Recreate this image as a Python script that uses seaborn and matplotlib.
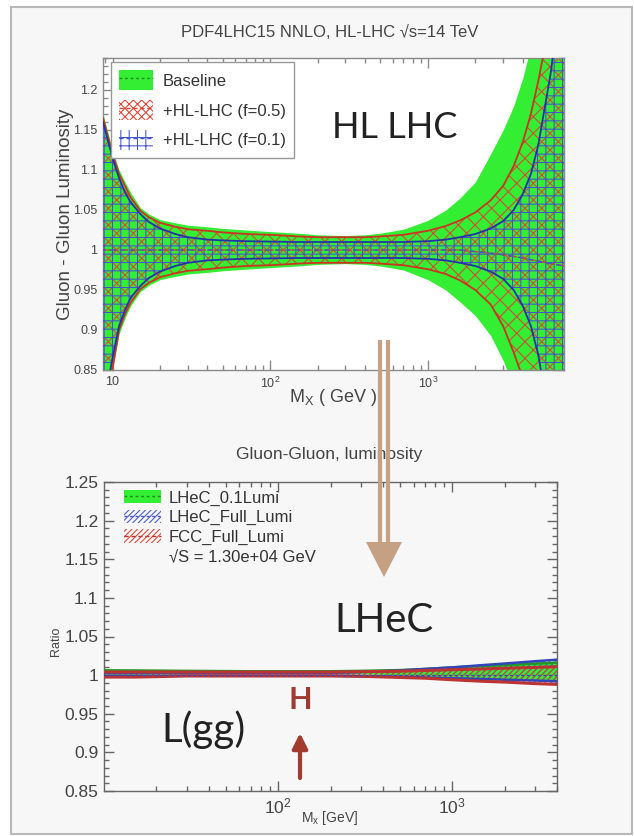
import seaborn as sns
import matplotlib.pyplot as plt
from matplotlib.patches import Patch, Rectangle, Polygon
from matplotlib.lines import Line2D
from matplotlib.ticker import FixedLocator, FixedFormatter, MultipleLocator, LogLocator, NullFormatter

sns.set_style("ticks")
plt.rcParams['font.family'] = ['Liberation Sans', 'DejaVu Sans']
plt.rcParams['mathtext.default'] = 'regular'
plt.rcParams['hatch.linewidth'] = 0.75

# ---- top panel: PDF4LHC15 NNLO gg luminosity ratio
mx_top = [8.7, 10, 11, 12, 13, 15, 17, 20, 25, 30, 40, 50, 70, 100, 150, 200, 300, 400,
          500, 700, 1000, 1300, 1600, 2000, 2500, 3000, 3500, 4000, 4500, 5000, 6000, 7300]
base_hi = [1.17, 1.125, 1.10, 1.085, 1.072, 1.053, 1.045, 1.038, 1.034, 1.031, 1.029, 1.027,
           1.025, 1.023, 1.021, 1.019, 1.018, 1.019, 1.021, 1.026, 1.037, 1.05, 1.065, 1.085,
           1.12, 1.15, 1.18, 1.215, 1.255, 1.30, 1.40, 1.50]
base_lo = [0.80, 0.85, 0.895, 0.915, 0.93, 0.948, 0.956, 0.963, 0.967, 0.970, 0.972, 0.974,
           0.976, 0.978, 0.980, 0.982, 0.983, 0.982, 0.980, 0.975, 0.963, 0.95, 0.935, 0.918,
           0.893, 0.862, 0.83, 0.80, 0.76, 0.72, 0.62, 0.50]
hl5_hi = [1.165, 1.12, 1.095, 1.08, 1.066, 1.049, 1.041, 1.034, 1.029, 1.026, 1.024, 1.022,
          1.020, 1.019, 1.017, 1.016, 1.016, 1.016, 1.017, 1.019, 1.024, 1.030, 1.037, 1.047,
          1.062, 1.08, 1.105, 1.135, 1.17, 1.21, 1.29, 1.40]
hl5_lo = [0.80, 0.852, 0.90, 0.92, 0.934, 0.951, 0.959, 0.966, 0.971, 0.974, 0.976, 0.978,
          0.980, 0.981, 0.983, 0.984, 0.984, 0.984, 0.983, 0.981, 0.976, 0.970, 0.962, 0.950,
          0.932, 0.905, 0.872, 0.84, 0.80, 0.77, 0.68, 0.55]
hl1_hi = [1.16, 1.115, 1.09, 1.072, 1.06, 1.045, 1.035, 1.027, 1.02, 1.016, 1.013, 1.012,
          1.011, 1.0105, 1.01, 1.01, 1.01, 1.01, 1.01, 1.01, 1.011, 1.013, 1.016, 1.02,
          1.027, 1.036, 1.05, 1.07, 1.095, 1.13, 1.22, 1.35]
hl1_lo = [0.80, 0.865, 0.905, 0.925, 0.94, 0.955, 0.965, 0.973, 0.98, 0.984, 0.987, 0.988,
          0.989, 0.9895, 0.99, 0.99, 0.99, 0.99, 0.99, 0.99, 0.989, 0.987, 0.984, 0.98,
          0.973, 0.964, 0.95, 0.93, 0.905, 0.87, 0.78, 0.65]
center_top = [1.0] * 23 + [0.998, 0.996, 0.994, 0.992, 0.99, 0.988, 0.986, 0.983, 0.98]

yticks_top = [0.85, 0.9, 0.95, 1.0, 1.05, 1.1, 1.15, 1.2]
ylabels_top = ['0.85', '0.9', '0.95', '1', '1.05', '1.1', '1.15', '1.2']
xticks_top = [10, 100, 1000]
xlabels_top = ['10', '$10^{2}$', '$10^{3}$']

# ---- bottom panel: LHeC / FCC gg luminosity ratio
mx_bot = [10, 15, 20, 30, 50, 70, 100, 150, 200, 300, 500, 700, 1000, 1500, 2000, 3000, 4000]
lhec01_hi = [1.0062, 1.006, 1.0058, 1.0055, 1.0052, 1.005, 1.005, 1.005, 1.005, 1.0055,
             1.0065, 1.008, 1.010, 1.012, 1.013, 1.015, 1.016]
lhec01_lo = [1.001, 1.001, 1.0012, 1.0015, 1.0018, 1.002, 1.002, 1.002, 1.002, 1.0015,
             1.0005, 0.999, 0.997, 0.995, 0.994, 0.993, 0.992]
lhec_hi = [1.003] * 9 + [1.004, 1.006, 1.008, 1.010, 1.013, 1.015, 1.018, 1.020]
lhec_lo = [0.999] * 9 + [0.9985, 0.998, 0.997, 0.996, 0.995, 0.994, 0.993, 0.992]
fcc_hi = [1.004] * 9 + [1.0045, 1.005, 1.006, 1.007, 1.008, 1.009, 1.010, 1.011]
fcc_lo = [0.9975, 0.9975, 0.998, 0.999, 0.999, 0.999, 0.999, 0.999, 0.999, 0.9985,
          0.997, 0.996, 0.994, 0.992, 0.991, 0.989, 0.988]
center_bot = [1.0] * 17

yticks_bot = [0.85, 0.9, 0.95, 1.0, 1.05, 1.1, 1.15, 1.2, 1.25]
ylabels_bot = ['0.85', '0.9', '0.95', '1', '1.05', '1.1', '1.15', '1.2', '1.25']
xticks_bot = [100, 1000]
xlabels_bot = ['$10^{2}$', '$10^{3}$']

GREEN = '#33ee33'
RED = '#dd4433'
BLUE = '#4455cc'

W, H = 634, 836
fig = plt.figure(figsize=(W / 100, H / 100), dpi=100, facecolor='white')
inch = fig.dpi_scale_trans


def P(x, y):
    # picture pixel (from top-left) -> inches from bottom-left
    return (x / 100, (H - y) / 100)


fig.add_artist(Rectangle(P(11, 834), 621 / 100, 827 / 100, transform=inch,
                         facecolor='#f7f7f7', edgecolor='#b8b8b8', lw=1.5, zorder=-1))

ax1 = fig.add_axes([103 / W, 1 - 370 / H, 461 / W, 312 / H])
ax2 = fig.add_axes([104 / W, 1 - 791 / H, 453 / W, 309 / H])
ax1.set_facecolor('white')
ax2.set_facecolor('#f7f7f7')

# top panel bands
ax1.set_xscale('log')
ax1.fill_between(mx_top, base_lo, base_hi, color=GREEN, lw=0, zorder=1)
plt.rcParams['hatch.color'] = RED
ax1.fill_between(mx_top, hl5_lo, hl5_hi, facecolor='none', edgecolor=RED, hatch='xx', lw=0, zorder=2)
plt.rcParams['hatch.color'] = BLUE
ax1.fill_between(mx_top, hl1_lo, hl1_hi, facecolor='none', edgecolor=BLUE, hatch='++', lw=0, zorder=3)
for hi, lo, c in [(hl5_hi, hl5_lo, '#cc3322'), (hl1_hi, hl1_lo, '#2233aa')]:
    sns.lineplot(x=mx_top, y=hi, ax=ax1, color=c, lw=1.3, zorder=4)
    sns.lineplot(x=mx_top, y=lo, ax=ax1, color=c, lw=1.3, zorder=4)
sns.lineplot(x=mx_top, y=center_top, ax=ax1, color='#228822', lw=1, ls=(0, (2, 2)), zorder=5)
sns.lineplot(x=mx_top, y=center_top, ax=ax1, color=RED, lw=1, ls=(0, (4, 3)), zorder=5)
sns.lineplot(x=mx_top, y=center_top, ax=ax1, color=BLUE, lw=1, ls=(2, (4, 3)), zorder=5)
ax1.set_xlim(8.7, 7300)
ax1.set_ylim(0.85, 1.24)

# bottom panel bands
ax2.set_xscale('log')
ax2.fill_between(mx_bot, lhec01_lo, lhec01_hi, color=GREEN, lw=0, zorder=1)
plt.rcParams['hatch.color'] = BLUE
ax2.fill_between(mx_bot, lhec_lo, lhec_hi, facecolor='none', edgecolor=BLUE, hatch='//////', lw=0, zorder=2)
plt.rcParams['hatch.color'] = RED
ax2.fill_between(mx_bot, fcc_lo, fcc_hi, facecolor='none', edgecolor=RED, hatch='//////', lw=0, zorder=3)
sns.lineplot(x=mx_bot, y=lhec01_hi, ax=ax2, color='#229922', lw=1.8, zorder=4)
sns.lineplot(x=mx_bot, y=lhec_hi, ax=ax2, color='#3344bb', lw=1.8, zorder=4)
sns.lineplot(x=mx_bot, y=lhec_lo, ax=ax2, color='#3344bb', lw=1.8, zorder=4)
sns.lineplot(x=mx_bot, y=fcc_hi, ax=ax2, color='#bb3333', lw=2.2, zorder=5)
sns.lineplot(x=mx_bot, y=fcc_lo, ax=ax2, color='#bb3333', lw=2.2, zorder=5)
sns.lineplot(x=mx_bot, y=center_bot, ax=ax2, color='#3344bb', lw=1, ls=(0, (2, 2)), zorder=6)
ax2.set_xlim(10, 4000)
ax2.set_ylim(0.85, 1.25)

for ax, yt, yl, xt, xl, fs, sc in [(ax1, yticks_top, ylabels_top, xticks_top, xlabels_top, 9, '#8a8a8a'),
                                    (ax2, yticks_bot, ylabels_bot, xticks_bot, xlabels_bot, 12.5, '#666666')]:
    ax.yaxis.set_major_locator(FixedLocator(yt))
    ax.yaxis.set_major_formatter(FixedFormatter(yl))
    ax.yaxis.set_minor_locator(MultipleLocator(0.01))
    ax.xaxis.set_major_locator(FixedLocator(xt))
    ax.xaxis.set_major_formatter(FixedFormatter(xl))
    ax.xaxis.set_minor_locator(LogLocator(base=10, subs=range(2, 10)))
    ax.xaxis.set_minor_formatter(NullFormatter())
    ax.tick_params(which='both', direction='in', top=True, right=True, color=sc,
                   labelsize=fs, labelcolor='#444444', width=1)
    ax.tick_params(which='major', length=7, pad=4)
    ax.tick_params(which='minor', length=3.5)
    for s in ax.spines.values():
        s.set_color(sc)
        s.set_linewidth(1)
    ax.set_xlabel('')
    ax.set_ylabel('')

# legends
leg1 = ax1.legend(
    [(Patch(facecolor=GREEN, lw=0), Line2D([], [], color='#228822', ls=(0, (2, 2)), lw=1)),
     (Patch(facecolor='white', edgecolor=RED, hatch='xxxx', lw=0), Line2D([], [], color=RED, ls=(0, (3, 2)), lw=1)),
     (Patch(facecolor='white', edgecolor=BLUE, hatch='++', lw=0), Line2D([], [], color=BLUE, ls=(0, (3, 2)), lw=1))],
    ['Baseline', '+HL-LHC (f=0.5)', '+HL-LHC (f=0.1)'],
    loc='upper left', bbox_to_anchor=P(111, 62), bbox_transform=inch, borderaxespad=0,
    fontsize=12, frameon=True, fancybox=False, framealpha=1, edgecolor='#999999',
    handlelength=2.0, handleheight=1.45, labelspacing=0.6, handletextpad=0.6,
    borderpad=0.5)
leg1.get_frame().set_linewidth(1)
for t in leg1.get_texts():
    t.set_color('#333333')

leg2 = ax2.legend(
    [(Patch(facecolor=GREEN, lw=0), Line2D([], [], color='#228822', ls=(0, (2, 2)), lw=1)),
     (Patch(facecolor='none', edgecolor=BLUE, hatch='//////', lw=0), Line2D([], [], color=BLUE, ls=(0, (2, 2)), lw=1)),
     (Patch(facecolor='none', edgecolor=RED, hatch='//////', lw=0), Line2D([], [], color='#bb3333', ls=(0, (3, 2)), lw=1)),
     Patch(facecolor='none', lw=0)],
    ['LHeC_0.1Lumi', 'LHeC_Full_Lumi', 'FCC_Full_Lumi', '\u221aS = 1.30e+04 GeV'],
    loc='upper left', bbox_to_anchor=P(124, 490), bbox_transform=inch, borderaxespad=0,
    fontsize=12, frameon=False, handlelength=2.2, handleheight=0.85, labelspacing=0.25,
    handletextpad=0.5, borderpad=0)
for t in leg2.get_texts():
    t.set_color('#333333')

# titles and axis labels
fig.text(*P(330, 32), 'PDF4LHC15 NNLO, HL-LHC \u221as=14 TeV', transform=inch, ha='center', va='center',
         fontsize=12, color='#444444')
fig.text(*P(65, 214), 'Gluon - Gluon Luminosity', transform=inch, ha='center', va='center',
         rotation=90, fontsize=13.5, color='#444444')
fig.text(*P(333, 398), 'M$_X$ ( GeV )', transform=inch, ha='center', va='center',
         fontsize=13, color='#444444')
fig.text(*P(329, 455), 'Gluon-Gluon, luminosity', transform=inch, ha='center', va='center',
         fontsize=12.5, color='#444444')
fig.text(*P(56, 641), 'Ratio', transform=inch, ha='center', va='center',
         rotation=90, fontsize=9, color='#444444')
fig.text(*P(330, 818), 'M$_x$ [GeV]', transform=inch, ha='center', va='center',
         fontsize=10, color='#444444')

# slide annotations
fig.text(*P(395, 127), 'HL LHC', transform=inch, ha='center', va='center',
         fontsize=26, family='Lato', color='#222222', zorder=10)
fig.text(*P(384, 620), 'LHeC', transform=inch, ha='center', va='center',
         fontsize=29, family='Lato', color='#222222', zorder=10)
fig.text(*P(203, 730), 'L(gg)', transform=inch, ha='center', va='center',
         fontsize=29, family='Lato', color='#222222', zorder=10)
fig.text(*P(300, 700), 'H', transform=inch, ha='center', va='center',
         fontsize=22, family='Lato', weight='bold', color='#a03a30', zorder=10)
ax2.annotate('', xy=(300, H - 733), xycoords='figure pixels', xytext=(300, H - 778),
             textcoords='figure pixels',
             arrowprops=dict(arrowstyle='-|>,head_length=0.9,head_width=0.45', color='#a33a2e', lw=3,
                             shrinkA=0, shrinkB=0), zorder=10)

# big tan arrow between the panels
TAN = '#c6a082'
for x in (380, 388):
    fig.add_artist(Line2D([P(x, 340)[0], P(x, 543)[0]], [P(x, 340)[1], P(x, 543)[1]],
                          transform=inch, color=TAN, lw=3, solid_capstyle='butt', zorder=10))
fig.add_artist(Polygon([P(366, 542), P(402, 542), P(384, 577)], closed=True, transform=inch,
                       facecolor=TAN, edgecolor='none', zorder=10))

fig.savefig('out.png', dpi=100)
